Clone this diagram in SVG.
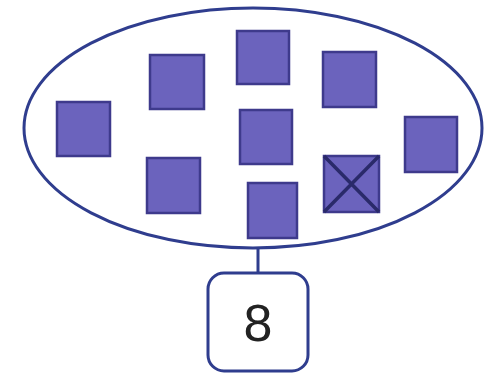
<svg xmlns="http://www.w3.org/2000/svg" width="486" height="380" viewBox="0 0 486 380">
<style>
.sq{fill:#6b63bd;stroke:#3e3a8c;stroke-width:2.5}
.ol{fill:none;stroke:#2f3d8e;stroke-width:3}
.tx{font-family:"Liberation Sans",Arial,sans-serif;font-size:52px;fill:#222}
</style>
<rect width="486" height="380" fill="#ffffff"/>
<g id="set">
<ellipse class="ol" cx="253" cy="128" rx="229" ry="120"/>
<rect class="sq" x="57" y="102" width="53" height="54"/>
<rect class="sq" x="150" y="55" width="54" height="54"/>
<rect class="sq" x="237" y="31" width="52" height="53"/>
<rect class="sq" x="323" y="52" width="53" height="55"/>
<rect class="sq" x="240" y="110" width="52" height="54"/>
<rect class="sq" x="405" y="117" width="52" height="55"/>
<rect class="sq" x="147" y="158" width="53" height="55"/>
<rect class="sq" x="248" y="183" width="49" height="55"/>
<rect class="sq" x="324" y="156" width="55" height="56"/>
<path d="M324 156 L379 212 M379 156 L324 212" stroke="#2a2a6a" stroke-width="3.5" fill="none"/>
</g>
<g id="connectors">
<line class="ol" x1="258" y1="248" x2="258" y2="273"/>
</g>
<g id="count">
<rect class="ol" x="208" y="273" width="100" height="98" rx="16"/>
<text class="tx" x="258" y="341" text-anchor="middle">8</text>
</g>
</svg>
